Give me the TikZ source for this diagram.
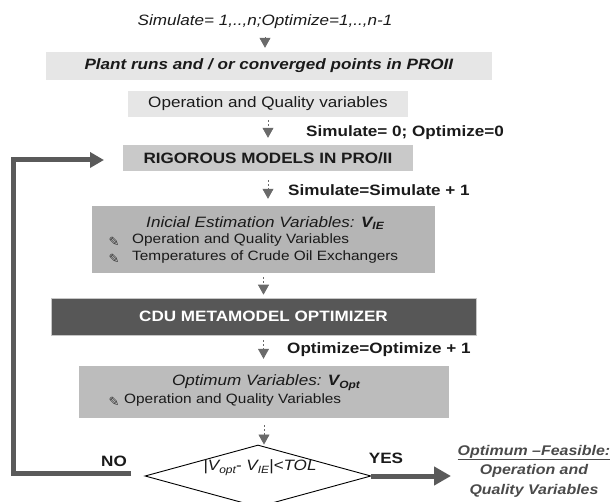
\documentclass[tikz,border=0pt]{standalone}
\usepackage{fontspec}
\setmainfont[FakeStretch=1.14]{Liberation Sans}
\newfontfamily\symfont{DejaVu Sans}
\usetikzlibrary{arrows.meta,shapes.geometric,calc}
\definecolor{lightbox}{HTML}{E6E6E6}
\definecolor{midbox}{HTML}{C9C9C9}
\definecolor{darkbox}{HTML}{B5B5B5}
\definecolor{optbox}{HTML}{BCBCBC}
\definecolor{cdubox}{HTML}{575757}
\definecolor{txt}{HTML}{1A1A1A}
\definecolor{arrowgray}{HTML}{6A6A6A}
\definecolor{loopgray}{HTML}{5A5A5A}
\definecolor{restxt}{HTML}{4A4A4A}
\definecolor{pengray}{HTML}{333333}
\newcommand{\lowtxt}[1]{\raisebox{-0.35ex}{\fontsize{10.5}{10.5}\selectfont #1}}
\newcommand{\penmark}{{\symfont\fontsize{13}{13}\selectfont ✎}}
\begin{document}
\begin{tikzpicture}[x=1pt,y=-1pt,
  base/.style={font=\fontsize{15}{18}\selectfont, text=txt, inner sep=0pt},
  boxnode/.style={base, draw=none, inner sep=0pt},
  smallarrow/.style={draw=arrowgray, line width=0.8pt, dash pattern=on 2pt off 2pt,
    -{Triangle[width=11pt,length=10pt,fill=arrowgray]}},
  loopline/.style={draw=loopgray, line width=5pt},
  bigarrow/.style={draw=loopgray, line width=5pt, -{Triangle[width=18pt,length=17pt,fill=loopgray]}},
  lbl/.style={base, font=\fontsize{15}{18}\selectfont\bfseries, anchor=west},
  bul/.style={base, font=\fontsize{13.5}{15}\selectfont, anchor=west},
  pen/.style={inner sep=0pt, text=pengray}
]
\useasboundingbox (0,0) rectangle (613,502);

% top text
\node[base] (t0) at (265,22) {\textit{Simulate= 1,..,n;Optimize=1,..,n-1}};

% boxes
\node[boxnode, fill=lightbox, minimum width=446pt, minimum height=28pt] (b1) at (269,66)
  {\textbf{\textit{Plant runs and / or converged points in PROII}}};
\node[boxnode, fill=lightbox, minimum width=280pt, minimum height=26pt] (b2) at (268,104)
  {Operation and Quality variables};
\node[boxnode, fill=midbox, minimum width=290pt, minimum height=26pt] (b3) at (268,158)
  {\textbf{RIGOROUS MODELS IN PRO/II}};
\node[boxnode, fill=darkbox, minimum width=343pt, minimum height=67pt] (b4) at (263.5,239.5) {};
\node[boxnode, fill=cdubox, draw=gray!45, line width=0.6pt, minimum width=425pt, minimum height=37pt, text=white] (b5) at (263.5,316.5)
  {\textbf{CDU METAMODEL OPTIMIZER}};
\node[boxnode, fill=optbox, minimum width=370pt, minimum height=52pt] (b6) at (264,392) {};

% box 4 content
\node[base] (b4t) at (265,223) {\textit{Inicial Estimation Variables: }\textbf{\textit{V\lowtxt{IE}}}};
\node[pen] (p41) at (114,242) {\penmark};
\node[bul] (b41) at (132,240) {Operation and Quality Variables};
\node[pen] (p42) at (114,259) {\penmark};
\node[bul] (b42) at (132,257) {Temperatures of Crude Oil Exchangers};

% box 6 content
\node[base] (b6t) at (266,383) {\textit{Optimum Variables: }\textbf{\textit{V\lowtxt{Opt}}}};
\node[pen] (p61) at (114,402) {\penmark};
\node[bul] (b61) at (124,400) {Operation and Quality Variables};

% diamond
\node[draw=black, line width=0.9pt, fill=white, diamond, inner sep=0pt,
  minimum width=226pt, minimum height=62pt] (dia) at (258,476) {};
\node[base] (diat) at (260,468) {\textit{|V\lowtxt{opt}- V\lowtxt{IE}|<TOL}};

% labels
\node[lbl] (l1) at (306,133) {Simulate= 0; Optimize=0};
\node[lbl] (l2) at (288,190) {Simulate=Simulate + 1};
\node[lbl] (l3) at (287,350) {Optimize=Optimize + 1};
\node[base, font=\fontsize{15}{18}\selectfont\bfseries] (no) at (114,461) {NO};
\node[base, font=\fontsize{15}{18}\selectfont\bfseries] (yes) at (386,458) {YES};

\node[base, text=restxt, align=center, font=\fontsize{14}{19.5}\selectfont\bfseries\itshape] (res) at (534,471)
  {\underline{Optimum –Feasible:}\\Operation and\\Quality Variables};

% small arrows
\draw[smallarrow, shorten <=8pt, shorten >=4pt] (t0.south) -- (t0.south |- b1.north);
\draw[smallarrow, shorten <=3pt, shorten >=7pt] (b2.south) -- (b3.north);
\draw[smallarrow, shorten <=9pt, shorten >=7pt] (b3.south) -- (b3.south |- b4.north);
\draw[smallarrow, shorten <=4pt, shorten >=3pt] (b4.south) -- (b5.north);
\draw[smallarrow, shorten <=5pt, shorten >=7pt] (b5.south) -- (b5.south |- b6.north);
\draw[smallarrow, shorten <=7pt, shorten >=0pt] (b6.south) -- (b6.south |- dia.north);

% loop back (NO)
\coordinate (noend) at (131,473);
\coordinate (lb) at (13,473);
\coordinate (lt) at (13,160);
\coordinate (ltip) at (104,160);
\draw[loopline, -{Triangle[width=15pt,length=14pt,fill=loopgray]}] (noend) -- (lb) -- (lt) -- (ltip);

% YES arrow
\coordinate (yestip) at (451,476);
\draw[bigarrow] (dia.east) -- (yestip);
\end{tikzpicture}
\end{document}
